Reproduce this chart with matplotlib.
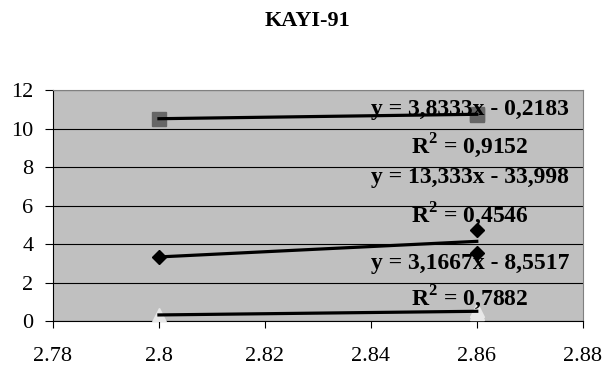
import numpy as np
import matplotlib.pyplot as plt

# data
sq_x = [2.80, 2.86, 2.86]
sq_y = [10.515, 10.705, 10.785]
dm_x = [2.80, 2.86, 2.86]
dm_y = [3.33, 4.72, 3.56]
tr_x = [2.80, 2.86, 2.86]
tr_y = [0.315, 0.42, 0.59]

labels = [
    ("y = 3,8333x - 0,2183", 11.0),
    ("R$^\\mathbf{2}$ = 0,9152", 9.1),
    ("y = 13,333x - 33,998", 7.45),
    ("R$^\\mathbf{2}$ = 0,4546", 5.5),
    ("y = 3,1667x - 8,5517", 3.0),
    ("R$^\\mathbf{2}$ = 0,7882", 1.2),
]

plt.rcParams['font.family'] = 'Liberation Serif'
plt.rcParams['mathtext.fontset'] = 'custom'
plt.rcParams['mathtext.bf'] = 'Liberation Serif:bold'

fig = plt.figure(figsize=(6.07, 3.74), dpi=100)
ax = fig.add_axes([0.0873, 0.1417, 0.8727, 0.6173])
ax.set_facecolor('#C0C0C0')

series = [
    (sq_x, sq_y, 's', '#666666', 9.5),
    (dm_x, dm_y, 'D', 'black', 7.5),
    (tr_x, tr_y, '^', '#E8E8E8', 10),
]
for xs, ys, m, c, ms in series:
    ax.plot(xs, ys, linestyle='none', marker=m, color=c, markersize=ms, zorder=3)
    k, b = np.polyfit(xs, ys, 1)
    xl = np.array([min(xs), max(xs)])
    ax.plot(xl, k * xl + b, color='black', linewidth=2.3, zorder=4)

for txt, yv in labels:
    ax.text(2.8587, yv, txt, ha='center', va='center', fontsize=17, fontweight='bold', zorder=5)

ax.set_xlim(2.78, 2.88)
ax.set_ylim(0, 12)
ax.set_xticks([2.78, 2.80, 2.82, 2.84, 2.86, 2.88])
ax.set_xticklabels(['2.78', '2.8', '2.82', '2.84', '2.86', '2.88'])
ax.set_yticks(range(0, 13, 2))
ax.grid(axis='y', color='black', linewidth=0.8)
ax.set_axisbelow(True)
ax.tick_params(labelsize=16, direction='out', length=5, color='black')
ax.tick_params(axis='x', pad=14)
ax.tick_params(axis='y', pad=8, length=6)
ax.spines['top'].set_color('#808080')
ax.spines['right'].set_color('#808080')

fig.text(0.506, 0.944, 'KAYI-91', ha='center', va='center', fontsize=16, fontweight='bold')

fig.savefig('out.png', dpi=100)
